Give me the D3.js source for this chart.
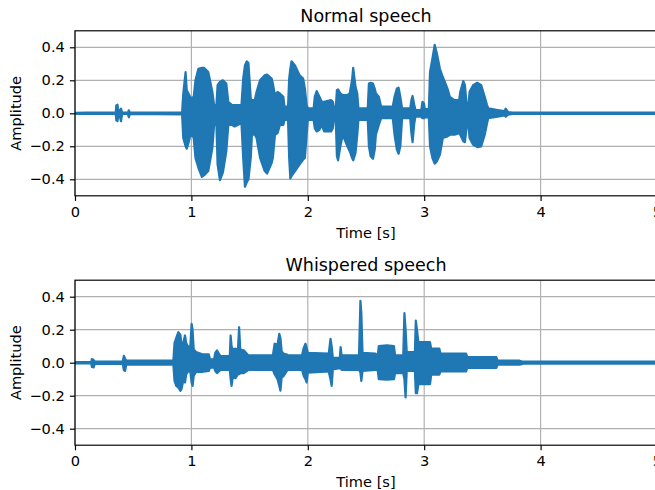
<!DOCTYPE html>
<html>
<head>
<meta charset="utf-8">
<script src="https://cdn.jsdelivr.net/npm/d3@7"></script>
<style>
    body { margin: 0; background: #ffffff; }
    svg text { font-family: "DejaVu Sans", sans-serif; fill: #000000; }
    .grid line { stroke: #b0b0b0; stroke-width: 1.17; }
    .tick line { stroke: #000000; stroke-width: 1.17; }
</style>
</head>
<body>
<svg id="chart" width="655" height="490"></svg>
<script>
// envelope of the waveform: time [s], upper and lower amplitude
var normalTime = [0.00, 0.10, 0.35, 0.355, 0.365, 0.372, 0.385, 0.395, 0.405, 0.455, 0.462, 0.472,
    0.92, 0.93, 0.95, 0.96, 0.975, 0.995, 1.02, 1.035, 1.06, 1.09, 1.11, 1.145, 1.18, 1.195, 1.215,
    1.225, 1.245, 1.27, 1.30, 1.317, 1.35, 1.37, 1.43, 1.445, 1.46, 1.475, 1.49, 1.51, 1.52, 1.545,
    1.56, 1.59, 1.63, 1.65, 1.69, 1.70, 1.718, 1.74, 1.76, 1.79, 1.80, 1.83, 1.84, 1.85, 1.86, 1.89,
    1.93, 1.96, 1.975, 1.99, 2.00, 2.05, 2.06, 2.076, 2.10, 2.12, 2.14, 2.20, 2.215, 2.225, 2.24,
    2.25, 2.26, 2.28, 2.30, 2.34, 2.36, 2.38, 2.39, 2.41, 2.425, 2.435, 2.515, 2.525, 2.54, 2.56,
    2.575, 2.585, 2.61, 2.63, 2.73, 2.745, 2.765, 2.78, 2.795, 2.81, 2.88, 2.89, 2.90, 2.915, 2.925,
    2.975, 2.985, 2.998, 3.005, 3.04, 3.05, 3.07, 3.09, 3.11, 3.135, 3.16, 3.20, 3.22, 3.26, 3.30,
    3.31, 3.336, 3.35, 3.365, 3.38, 3.39, 3.42, 3.456, 3.49, 3.52, 3.54, 3.55, 3.63, 3.69, 3.70,
    3.72, 3.76, 5.00];
var normalHigh = [0.003, 0.004, 0.004, 0.048, 0.052, 0.013, 0.018, 0.028, 0.004, 0.004, 0.018, 0.004,
    0.006, 0.12, 0.25, 0.14, 0.12, 0.09, 0.10, 0.20, 0.27, 0.275, 0.275, 0.25, 0.13, 0.05, 0.05,
    0.17, 0.19, 0.20, 0.18, 0.07, 0.05, 0.05, 0.05, 0.21, 0.29, 0.315, 0.305, 0.09, 0.08, 0.08,
    0.13, 0.20, 0.23, 0.235, 0.21, 0.18, 0.11, 0.13, 0.12, 0.10, 0.04, 0.04, 0.21, 0.27, 0.315, 0.29,
    0.23, 0.21, 0.15, 0.05, 0.03, 0.03, 0.10, 0.135, 0.10, 0.07, 0.07, 0.08, 0.07, 0.03, 0.03,
    0.14, 0.145, 0.12, 0.11, 0.11, 0.12, 0.20, 0.275, 0.16, 0.12, 0.03, 0.03, 0.18, 0.185, 0.18,
    0.15, 0.12, 0.10, 0.04, 0.04, 0.10, 0.15, 0.155, 0.10, 0.03, 0.03, 0.08, 0.105, 0.05, 0.02,
    0.02, 0.07, 0.06, 0.025, 0.025, 0.25, 0.33, 0.415, 0.36, 0.27, 0.22, 0.15, 0.10, 0.08, 0.08,
    0.13, 0.195, 0.17, 0.05, 0.05, 0.13, 0.17, 0.185, 0.17, 0.10, 0.05, 0.03, 0.02, 0.013, 0.028,
    0.008, 0.004, 0.004];
var normalLow = [-0.003, -0.004, -0.004, -0.043, -0.048, -0.013, -0.018, -0.048, -0.004, -0.004, -0.024, -0.004,
    -0.006, -0.15, -0.20, -0.215, -0.18, -0.12, -0.15, -0.27, -0.33, -0.385, -0.375, -0.35, -0.21, -0.07, -0.07,
    -0.31, -0.405, -0.36, -0.23, -0.07, -0.07, -0.08, -0.06, -0.27, -0.445, -0.42, -0.40, -0.27, -0.13, -0.13,
    -0.15, -0.27, -0.35, -0.365, -0.30, -0.27, -0.13, -0.12, -0.07, -0.07, -0.04, -0.04, -0.27, -0.395, -0.38, -0.35,
    -0.31, -0.28, -0.27, -0.13, -0.04, -0.04, -0.09, -0.11, -0.10, -0.07, -0.11, -0.11, -0.09, -0.03, -0.03,
    -0.26, -0.285, -0.20, -0.13, -0.20, -0.23, -0.27, -0.285, -0.24, -0.13, -0.04, -0.04, -0.20, -0.26, -0.275,
    -0.22, -0.13, -0.07, -0.03, -0.03, -0.13, -0.22, -0.245, -0.20, -0.03, -0.03, -0.12, -0.175, -0.06, -0.02,
    -0.02, -0.03, -0.03, -0.025, -0.025, -0.20, -0.27, -0.305, -0.29, -0.25, -0.15, -0.14, -0.13, -0.13, -0.12,
    -0.13, -0.17, -0.175, -0.08, -0.07, -0.15, -0.19, -0.205, -0.20, -0.13, -0.06, -0.03, -0.02, -0.013, -0.02,
    -0.008, -0.004, -0.004];

var whisperTime = [0.00, 0.14, 0.145, 0.16, 0.17, 0.41, 0.42, 0.43, 0.44, 0.845, 0.855, 0.87, 0.888,
    0.905, 0.915, 0.93, 0.945, 0.955, 0.97, 0.99, 1.002, 1.01, 1.02, 1.04, 1.10, 1.15, 1.16, 1.195,
    1.205, 1.22, 1.24, 1.25, 1.33, 1.337, 1.345, 1.355, 1.38, 1.40, 1.41, 1.42, 1.45, 1.49, 1.70,
    1.715, 1.74, 1.755, 1.765, 1.775, 1.79, 1.82, 1.83, 1.95, 1.965, 1.98, 1.99, 2.00, 2.18, 2.195,
    2.205, 2.215, 2.275, 2.282, 2.29, 2.44, 2.452, 2.46, 2.47, 2.58, 2.60, 2.61, 2.68, 2.74, 2.75,
    2.82, 2.83, 2.84, 2.85, 2.92, 2.928, 2.938, 2.95, 3.05, 3.06, 3.13, 3.14, 3.36, 3.37, 3.62,
    3.63, 3.82, 3.85, 5.00];
var whisperHigh = [0.004, 0.004, 0.022, 0.016, 0.007, 0.007, 0.042, 0.026, 0.012, 0.012, 0.12, 0.15, 0.185,
    0.17, 0.11, 0.12, 0.165, 0.12, 0.10, 0.09, 0.235, 0.20, 0.08, 0.065, 0.05, 0.05, 0.02, 0.02,
    0.06, 0.075, 0.05, 0.04, 0.04, 0.165, 0.10, 0.08, 0.085, 0.08, 0.215, 0.08, 0.075, 0.044, 0.044,
    0.115, 0.11, 0.175, 0.15, 0.07, 0.055, 0.05, 0.044, 0.044, 0.09, 0.115, 0.09, 0.06, 0.055, 0.145,
    0.10, 0.03, 0.03, 0.095, 0.044, 0.044, 0.375, 0.30, 0.06, 0.055, 0.04, 0.10, 0.105, 0.10, 0.044,
    0.044, 0.30, 0.20, 0.065, 0.065, 0.255, 0.20, 0.125, 0.125, 0.085, 0.085, 0.055, 0.055, 0.034, 0.034,
    0.012, 0.012, 0.006, 0.006];
var whisperLow = [-0.004, -0.004, -0.026, -0.028, -0.007, -0.007, -0.045, -0.05, -0.012, -0.012, -0.11, -0.14, -0.15,
    -0.17, -0.16, -0.11, -0.12, -0.07, -0.055, -0.05, -0.12, -0.14, -0.08, -0.055, -0.055, -0.05, -0.03, -0.03,
    -0.05, -0.063, -0.05, -0.043, -0.043, -0.10, -0.14, -0.09, -0.093, -0.07, -0.07, -0.063, -0.063, -0.043, -0.043,
    -0.07, -0.10, -0.14, -0.17, -0.09, -0.083, -0.05, -0.043, -0.043, -0.08, -0.10, -0.12, -0.06, -0.053, -0.10,
    -0.14, -0.04, -0.033, -0.033, -0.043, -0.043, -0.06, -0.11, -0.05, -0.043, -0.043, -0.10, -0.103, -0.10, -0.063,
    -0.063, -0.10, -0.21, -0.05, -0.05, -0.185, -0.185, -0.13, -0.13, -0.073, -0.073, -0.053, -0.053, -0.032, -0.032,
    -0.012, -0.012, -0.006, -0.006];

var xTicks = [0, 1, 2, 3, 4, 5];
var yTicks = [-0.4, -0.2, 0.0, 0.2, 0.4];
var panelTitles = ["Normal speech", "Whispered speech"];

var svg = d3.select("#chart");
var lineColor = "#1f77b4";

var x = d3.scaleLinear().domain([0, 5]).range([75, 657]);

function DrawPanel(paramTop, paramTitle, paramTime, paramHigh, paramLow, paramId) {
    var top = paramTop;
    var bottom = paramTop + 165;
    var y = d3.scaleLinear().domain([-0.5, 0.5]).range([bottom, top]);

    var data = paramTime.map(function(t, i) {
        return {t: t, hi: paramHigh[i], lo: paramLow[i]};
    });

    var g = svg.append("g");

    // grid
    var grid = g.append("g").attr("class", "grid");
    grid.selectAll("line.gx")
        .data(xTicks)
        .enter().append("line")
        .attr("x1", function(d) { return x(d); })
        .attr("x2", function(d) { return x(d); })
        .attr("y1", top)
        .attr("y2", bottom);
    grid.selectAll("line.gy")
        .data(yTicks)
        .enter().append("line")
        .attr("x1", x(0))
        .attr("x2", x(5))
        .attr("y1", function(d) { return y(d); })
        .attr("y2", function(d) { return y(d); });

    g.append("clipPath")
        .attr("id", "clip" + paramId)
        .append("rect")
        .attr("x", x(0))
        .attr("y", top)
        .attr("width", x(5) - x(0))
        .attr("height", bottom - top);

    var area = d3.area()
        .x(function(d) { return x(d.t); })
        .y0(function(d) { return y(d.lo); })
        .y1(function(d) { return y(d.hi); });

    g.append("path")
        .datum(data)
        .attr("clip-path", "url(#clip" + paramId + ")")
        .attr("d", area)
        .attr("fill", lineColor)
        .attr("stroke", lineColor)
        .attr("stroke-width", 2.2)
        .attr("stroke-linejoin", "round");

    // axes
    var xAxis = g.append("g")
        .attr("transform", "translate(0," + bottom + ")")
        .call(d3.axisBottom(x).tickValues(xTicks).tickFormat(d3.format("d"))
            .tickSize(5.1).tickPadding(5.8).tickSizeOuter(0));
    var yAxis = g.append("g")
        .attr("transform", "translate(" + x(0) + ",0)")
        .call(d3.axisLeft(y).tickValues(yTicks).tickFormat(d3.format(".1f"))
            .tickSize(5.1).tickPadding(5.1).tickSizeOuter(0));
    xAxis.select(".domain").remove();
    yAxis.select(".domain").remove();
    g.selectAll(".tick text")
        .attr("font-size", "14.6px")
        .attr("font-family", "DejaVu Sans, sans-serif");

    g.append("rect")
        .attr("x", x(0))
        .attr("y", top)
        .attr("width", x(5) - x(0))
        .attr("height", bottom - top)
        .attr("fill", "none")
        .attr("stroke", "#000000")
        .attr("stroke-width", 1.17);

    g.append("text")
        .attr("x", (x(0) + x(5)) / 2)
        .attr("y", top - 8.75)
        .attr("text-anchor", "middle")
        .attr("font-size", "17.5px")
        .text(paramTitle);

    g.append("text")
        .attr("x", (x(0) + x(5)) / 2)
        .attr("y", bottom + 42)
        .attr("text-anchor", "middle")
        .attr("font-size", "14.6px")
        .text("Time [s]");

    g.append("text")
        .attr("transform", "translate(20.5," + y(0) + ") rotate(-90)")
        .attr("text-anchor", "middle")
        .attr("font-size", "14.6px")
        .text("Amplitude");
}

DrawPanel(30.8, panelTitles[0], normalTime, normalHigh, normalLow, 0);
DrawPanel(280.2, panelTitles[1], whisperTime, whisperHigh, whisperLow, 1);
</script>
</body>
</html>
